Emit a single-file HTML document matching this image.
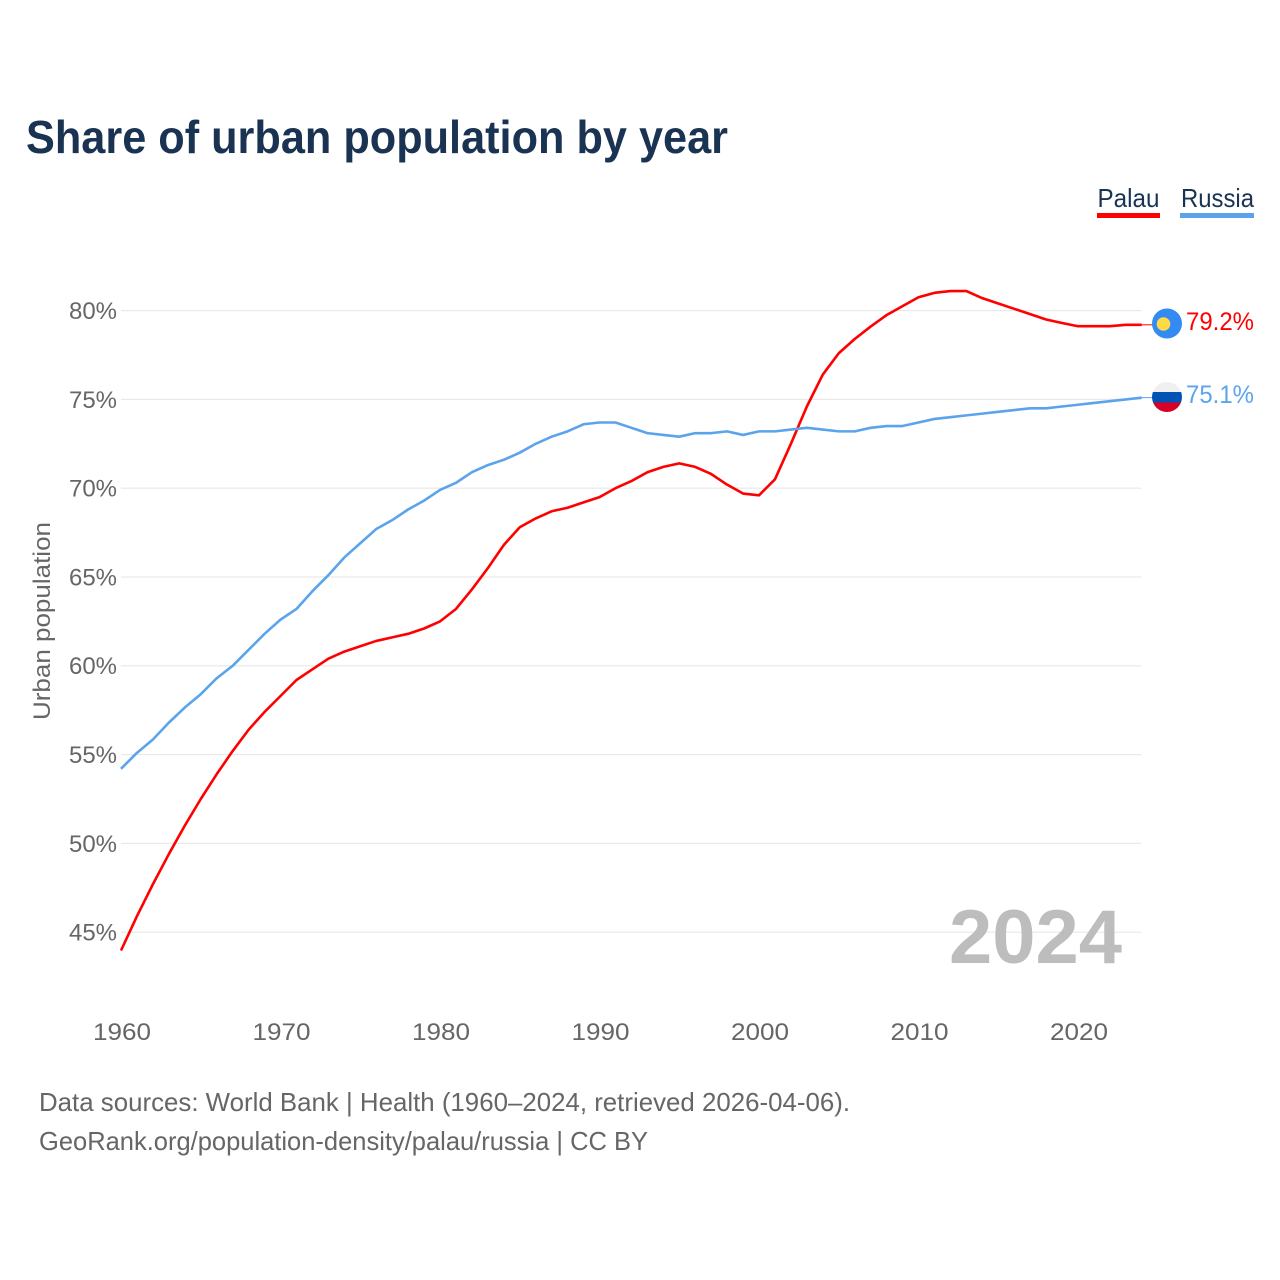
<!DOCTYPE html>
<html lang="en">
<head>
<meta charset="utf-8">
<title>Share of urban population by year</title>
<style>
html,body{margin:0;padding:0;background:#fff;width:1280px;height:1280px;overflow:hidden}
svg{display:block;font-family:"Liberation Sans",sans-serif}
</style>
</head>
<body>
<svg id="chart" width="1280" height="1280" viewBox="0 0 1280 1280" xmlns="http://www.w3.org/2000/svg">
  <rect width="1280" height="1280" fill="#ffffff"/>
  <text x="26" y="153" font-size="46" font-weight="700" fill="#1a3352" textLength="702" lengthAdjust="spacingAndGlyphs">Share of urban population by year</text>
  <g>
    <g>
      <text x="1097.5" y="207" font-size="26" fill="#1a3352" textLength="62" lengthAdjust="spacingAndGlyphs">Palau</text>
      <rect x="1097" y="213" width="63" height="5" fill="#ff0000"/>
    </g>
    <g>
      <text x="1181" y="207" font-size="26" fill="#1a3352" textLength="73" lengthAdjust="spacingAndGlyphs">Russia</text>
      <rect x="1180" y="213" width="74" height="5" fill="#5ba4ec"/>
    </g>
  </g>
  <g id="grid"></g>
  <g id="yticks"></g>
  <g id="xticks"></g>
  <text transform="translate(50,621) rotate(-90)" text-anchor="middle" font-size="24" fill="#666666" textLength="198" lengthAdjust="spacingAndGlyphs">Urban population</text>
  <text x="949" y="963" font-size="76" font-weight="700" fill="#bdbdbd" textLength="173" lengthAdjust="spacingAndGlyphs">2024</text>
  <g id="series"></g>
  <g id="flag-palau">
    <circle cx="1167" cy="323.5" r="15" fill="#338af3"/>
    <circle cx="1163.5" cy="324" r="6.8" fill="#ffda44"/>
  </g>
  <g id="flag-russia">
    <clipPath id="ru-clip"><circle cx="1167" cy="397" r="15"/></clipPath>
    <g clip-path="url(#ru-clip)">
      <rect x="1152" y="382" width="30" height="10" fill="#f0f0f0"/>
      <rect x="1152" y="392" width="30" height="10.5" fill="#0052b4"/>
      <rect x="1152" y="402.5" width="30" height="10" fill="#d80027"/>
    </g>
  </g>
  <text x="1186" y="330" font-size="25" fill="#ff0000" textLength="68" lengthAdjust="spacingAndGlyphs">79.2%</text>
  <text x="1186" y="403" font-size="25" fill="#5ba4ec" textLength="68" lengthAdjust="spacingAndGlyphs">75.1%</text>
  <text x="39" y="1111" font-size="26" fill="#666666" textLength="811" lengthAdjust="spacingAndGlyphs">Data sources: World Bank | Health (1960–2024, retrieved 2026-04-06).</text>
  <text x="39" y="1150" font-size="26" fill="#666666" textLength="609" lengthAdjust="spacingAndGlyphs">GeoRank.org/population-density/palau/russia | CC BY</text>
</svg>
<script>
const startYear = 1960;
const xTickYears = [1960, 1970, 1980, 1990, 2000, 2010, 2020];
const yTickValues = [45, 50, 55, 60, 65, 70, 75, 80];
const palauValues = [
  43.97, 45.9, 47.7, 49.4, 51.0, 52.5, 53.9, 55.2, 56.4, 57.4,
  58.3, 59.2, 59.8, 60.4, 60.8, 61.1, 61.4, 61.6, 61.8, 62.1,
  62.5, 63.2, 64.3, 65.5, 66.8, 67.8, 68.3, 68.7, 68.9, 69.2,
  69.5, 70.0, 70.4, 70.9, 71.2, 71.4, 71.2, 70.8, 70.2, 69.7,
  69.6, 70.5, 72.5, 74.6, 76.4, 77.6, 78.4, 79.1, 79.75, 80.25,
  80.75, 81.0, 81.1, 81.1, 80.7, 80.4, 80.1, 79.8, 79.5, 79.3,
  79.12, 79.12, 79.12, 79.2, 79.2
];
const russiaValues = [
  54.2, 55.1, 55.85, 56.8, 57.65, 58.4, 59.3, 60.0, 60.9, 61.8,
  62.6, 63.2, 64.2, 65.1, 66.1, 66.9, 67.7, 68.2, 68.8, 69.3,
  69.9, 70.3, 70.9, 71.3, 71.6, 72.0, 72.5, 72.9, 73.2, 73.6,
  73.7, 73.7, 73.4, 73.1, 73.0, 72.9, 73.1, 73.1, 73.2, 73.0,
  73.2, 73.2, 73.3, 73.4, 73.3, 73.2, 73.2, 73.4, 73.5, 73.5,
  73.7, 73.9, 74.0, 74.1, 74.2, 74.3, 74.4, 74.5, 74.5, 74.6,
  74.7, 74.8, 74.9, 75.0, 75.1
];

const SVGNS = 'http://www.w3.org/2000/svg';
function xScale(year) { return 121 + (year - 1960) * 15.95; }
function yScale(value) { return 310.6 + (80 - value) * 17.76; }
function make(tag, attrs, parent) {
  const el = document.createElementNS(SVGNS, tag);
  for (const k in attrs) el.setAttribute(k, attrs[k]);
  parent.appendChild(el);
  return el;
}

const gridG = document.getElementById('grid');
const yG = document.getElementById('yticks');
yTickValues.forEach(function (v) {
  const line = make('line', { x1: 121, x2: 1141.5, y1: yScale(v), y2: yScale(v), stroke: '#e9e9e9', 'stroke-width': 1.2 }, gridG);
  
  
  const label = make('text', { x: 117, y: yScale(v) + 8.4, 'text-anchor': 'end', 'font-size': 24, fill: '#666666', textLength: 48, lengthAdjust: 'spacingAndGlyphs' }, yG);
  
  
  label.textContent = v + '%';
});

const xG = document.getElementById('xticks');
xTickYears.forEach(function (yr) {
  const label = make('text', { x: xScale(yr) + 1, y: 1040, 'text-anchor': 'middle', 'font-size': 24, fill: '#666666', textLength: 58, lengthAdjust: 'spacingAndGlyphs' }, xG);
  
  
  label.textContent = yr;
});

function drawSeries(values, color, name) {
  const g = document.getElementById('series');
  const pts = values.map(function (v, i) { return xScale(startYear + i).toFixed(2) + ',' + yScale(v).toFixed(2); });
  const line = make('polyline', { points: pts.join(' '), fill: 'none', stroke: color, 'stroke-width': 2.6, 'stroke-linejoin': 'round' }, g);
  
  
  const last = values[values.length - 1];
  const lastYear = startYear + values.length - 1;
  const lead = make('line', { x1: xScale(lastYear), x2: 1153, y1: yScale(last), y2: yScale(last), stroke: color, 'stroke-width': 1 }, g);
  
  
}
drawSeries(palauValues, '#ff0000', 'palau');
drawSeries(russiaValues, '#5ba4ec', 'russia');
</script>
</body>
</html>
